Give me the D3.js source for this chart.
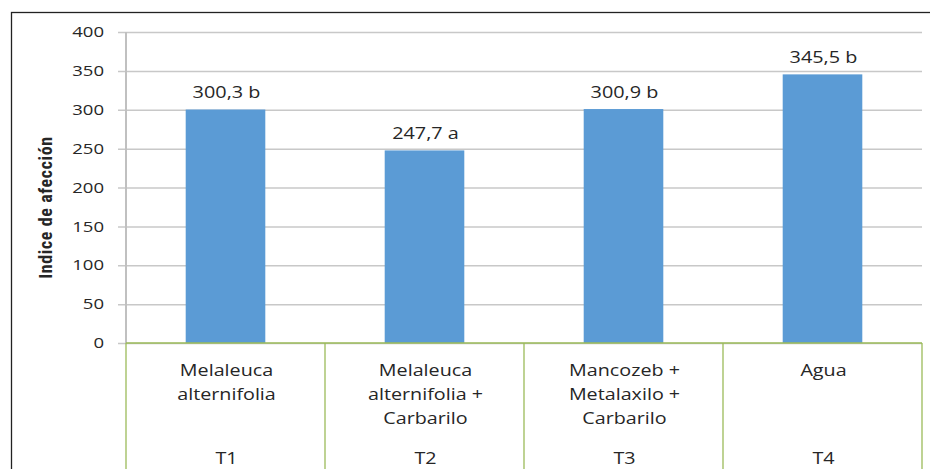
<!DOCTYPE html>
<html>
<head>
<meta charset="utf-8">
<script src="https://cdn.jsdelivr.net/npm/d3@7"></script>
<style>
  body { margin: 0; background: #fff; }
  svg text { font-family: "Open Sans", "Noto Sans", sans-serif; fill: #262626; }
</style>
</head>
<body>
<div class="d3-wrapper"></div>
<script>
// Chart values
const treatments = ['T1', 'T2', 'T3', 'T4'];
const treatmentNames = [
  ['Melaleuca', 'alternifolia'],
  ['Melaleuca', 'alternifolia +', 'Carbarilo'],
  ['Mancozeb +', 'Metalaxilo +', 'Carbarilo'],
  ['Agua']
];
const values = [300.3, 247.7, 300.9, 345.5];
const letters = ['b', 'a', 'b', 'b'];
const yTicks = [0, 50, 100, 150, 200, 250, 300, 350, 400];

const MARGIN = { top: 32, right: 8, bottom: 126, left: 126 };
const OUTER_WIDTH = 930,
  OUTER_HEIGHT = 469,
  INNER_WIDTH = OUTER_WIDTH - MARGIN.left - MARGIN.right,
  INNER_HEIGHT = OUTER_HEIGHT - MARGIN.top - MARGIN.bottom;

const xScale = d3.scaleBand().domain(treatments).range([0, INNER_WIDTH]).paddingInner(0.6).paddingOuter(0.3);
const catScale = d3.scaleBand().domain(treatments).range([0, INNER_WIDTH]);
const yScale = d3.scaleLinear().domain([0, 400]).range([INNER_HEIGHT, 0]);

// the original font is wide, so stretch glyphs horizontally
const stretch = (sel, k) => sel.each(function () {
  const t = d3.select(this);
  t.attr('x', (+t.attr('x') || 0) / k).attr('transform', `scale(${k},1)`);
});

const root = d3.select('.d3-wrapper').append('svg')
  .attr('width', OUTER_WIDTH)
  .attr('height', OUTER_HEIGHT);

// outer frame
root.append('rect')
  .attr('x', 11.5).attr('y', 12.5)
  .attr('width', OUTER_WIDTH).attr('height', OUTER_HEIGHT)
  .attr('fill', 'none').attr('stroke', '#222').attr('stroke-width', 1.3);

const svg = root.append('g')
  .attr('transform', `translate(${MARGIN.left}, ${MARGIN.top})`);

// gridlines + y axis
const yAxis = d3.axisLeft(yScale)
  .tickValues(yTicks)
  .tickSizeInner(-INNER_WIDTH)
  .tickSizeOuter(0)
  .tickPadding(22);

const yg = svg.append('g').attr('id', 'y-axis').call(yAxis);
yg.select('.domain').remove();
yg.selectAll('.tick line')
  .attr('stroke', '#c8c8c8').attr('stroke-width', 1.5)
  .attr('x1', -8);
yg.selectAll('.tick text')
  .attr('font-size', 14.5).attr('fill', '#1a1a1a')
  .style('font-family', '"Open Sans", "Noto Sans", sans-serif')
  .call(stretch, 1.28);

// vertical axis line
svg.append('line')
  .attr('x1', 0).attr('x2', 0)
  .attr('y1', yScale(400)).attr('y2', yScale(0))
  .attr('stroke', '#c0c0c0').attr('stroke-width', 2);

// bars
svg.selectAll('rect.bar')
  .data(values)
  .enter()
  .append('rect')
  .attr('class', 'bar')
  .attr('x', (d, i) => xScale(treatments[i]))
  .attr('y', d => yScale(d))
  .attr('width', xScale.bandwidth())
  .attr('height', d => yScale(0) - yScale(d))
  .attr('fill', '#5b9bd5');

// data labels
svg.selectAll('text.value')
  .data(values)
  .enter()
  .append('text')
  .attr('class', 'value')
  .attr('x', (d, i) => xScale(treatments[i]) + xScale.bandwidth() / 2 + 1)
  .attr('y', d => yScale(d) - 11.5)
  .attr('text-anchor', 'middle')
  .attr('font-size', 15.5)
  .text((d, i) => d.toFixed(1).replace('.', ',') + ' ' + letters[i])
  .call(stretch, 1.28);

// category table below axis
const axisColor = '#9bbb59';
svg.append('line')
  .attr('x1', 0).attr('x2', INNER_WIDTH)
  .attr('y1', yScale(0)).attr('y2', yScale(0))
  .attr('stroke', axisColor).attr('stroke-width', 1.3);

const bounds = treatments.map(t => catScale(t)).concat([INNER_WIDTH]);
svg.selectAll('line.sep')
  .data(bounds)
  .enter()
  .append('line')
  .attr('class', 'sep')
  .attr('x1', d => d).attr('x2', d => d)
  .attr('y1', yScale(0)).attr('y2', OUTER_HEIGHT)
  .attr('stroke', axisColor).attr('stroke-width', 1.3);

const cats = svg.selectAll('g.cat')
  .data(treatments)
  .enter()
  .append('g')
  .attr('class', 'cat')
  .attr('transform', d => `translate(${catScale(d) + catScale.bandwidth() / 2 + 1}, ${yScale(0)})`);

cats.append('text')
  .attr('text-anchor', 'middle')
  .attr('font-size', 17)
  .attr('transform', 'scale(1.16,1)')
  .selectAll('tspan')
  .data((d, i) => treatmentNames[i])
  .enter()
  .append('tspan')
  .attr('x', 0)
  .attr('y', (d, i) => 33 + i * 24)
  .text(d => d);

cats.append('text')
  .attr('text-anchor', 'middle')
  .attr('font-size', 17)
  .attr('transform', 'scale(1.16,1)')
  .attr('y', 121)
  .text(d => d);

// y title
svg.append('text')
  .attr('transform', 'rotate(-90)')
  .attr('text-anchor', 'middle')
  .attr('x', -(207.5 - MARGIN.top))
  .attr('y', -74)
  .attr('font-size', 18)
  .attr('font-weight', 'bold')
  .style('letter-spacing', '0.6px')
  .style('font-family', '"Liberation Sans Narrow", "Roboto Condensed", "Liberation Sans", sans-serif')
  .attr('fill', '#000')
  .text('Indice de afección');
</script>
</body>
</html>
